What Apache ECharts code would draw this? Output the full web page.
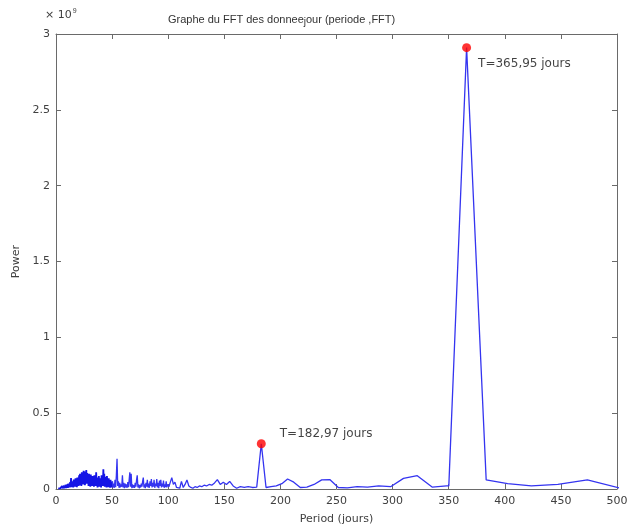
<!DOCTYPE html>
<html>
<head>
<meta charset="utf-8">
<script src="https://cdn.jsdelivr.net/npm/echarts@6/dist/echarts.min.js"></script>
<style>
  html, body { margin: 0; padding: 0; background: #fff; }
  #chart { width: 630px; height: 526px; }
</style>
</head>
<body>
<div id="chart"></div>
<script>
// power values are in units of 1e9 (the "x 10^9" note above the y axis)

// [period (jours), power] for the dense short-period part
const lowBand = [
  [2, 0.003], [3, 0.004], [4, 0.006], [5, 0.008],
  [5.4, 0.02], [5.8, 0.004], [6.2, 0.015], [6.6, 0.006], [7.0, 0.022], [7.4, 0.005],
  [7.8, 0.018], [8.2, 0.008], [8.6, 0.028], [9.0, 0.006], [9.4, 0.025], [9.8, 0.01],
  [10.2, 0.032], [10.6, 0.008], [11.0, 0.035], [11.4, 0.012], [11.8, 0.03], [12.2, 0.01],
  [12.6, 0.045], [13.0, 0.015], [13.4, 0.072], [13.8, 0.012], [14.2, 0.04], [14.6, 0.018],
  [15.0, 0.05], [15.4, 0.01], [15.8, 0.062], [16.2, 0.02], [16.6, 0.055], [17.0, 0.015],
  [17.4, 0.07], [17.8, 0.025], [18.2, 0.06], [18.6, 0.012], [19.0, 0.075], [19.4, 0.03],
  [19.8, 0.068], [20.2, 0.02], [20.6, 0.09], [21.0, 0.025], [21.4, 0.1], [21.8, 0.035],
  [22.2, 0.085], [22.6, 0.02], [23.0, 0.11], [23.4, 0.04], [23.8, 0.095], [24.2, 0.03],
  [24.6, 0.12], [25.0, 0.045], [25.4, 0.1], [25.8, 0.025], [26.2, 0.115], [26.6, 0.05],
  [27.0, 0.125], [27.4, 0.035], [27.8, 0.105], [28.2, 0.04], [28.6, 0.09], [29.0, 0.02],
  [29.4, 0.1], [29.8, 0.035], [30.2, 0.075], [30.6, 0.015], [31.0, 0.095], [31.4, 0.03],
  [31.8, 0.07], [32.2, 0.02], [32.6, 0.085], [33.0, 0.04], [33.4, 0.065], [33.8, 0.015],
  [34.2, 0.09], [34.6, 0.03], [35.0, 0.08], [35.4, 0.02], [35.8, 0.11], [36.2, 0.035],
  [36.6, 0.075], [37.0, 0.01], [37.4, 0.06], [37.8, 0.03], [38.2, 0.085], [38.6, 0.015],
  [39.0, 0.07], [39.4, 0.025], [39.8, 0.05], [40.2, 0.01], [40.6, 0.09], [41.0, 0.03],
  [41.4, 0.075], [41.8, 0.02], [42.2, 0.13], [42.6, 0.04], [43.0, 0.1], [43.4, 0.015],
  [43.8, 0.08], [44.2, 0.03], [44.6, 0.065], [45.0, 0.01], [45.4, 0.085], [45.8, 0.025],
  [46.2, 0.05], [46.6, 0.012], [47.0, 0.07], [47.4, 0.02], [47.8, 0.045], [48.2, 0.008],
  [48.6, 0.06], [49.0, 0.015], [49.4, 0.04], [49.8, 0.01]
];

const midBand = [
  [50.2, 0.05], [50.8, 0.01], [51.4, 0.035], [52.0, 0.008], [52.6, 0.06], [53.2, 0.012],
  [53.8, 0.09], [54.4, 0.2], [55.0, 0.02], [55.6, 0.05], [56.2, 0.008], [56.8, 0.04],
  [57.4, 0.01], [58.0, 0.03], [58.6, 0.015], [59.2, 0.09], [59.8, 0.01], [60.4, 0.04],
  [61.0, 0.005], [61.6, 0.035], [62.2, 0.01], [62.8, 0.03], [63.4, 0.008], [64.0, 0.045],
  [64.6, 0.012], [65.2, 0.06], [65.8, 0.11], [66.4, 0.015], [67.0, 0.1], [67.6, 0.005],
  [68.2, 0.03], [68.8, 0.01], [69.4, 0.025], [70.0, 0.008], [70.6, 0.04], [71.2, 0.015],
  [71.8, 0.06], [72.4, 0.09], [73.0, 0.01], [73.6, 0.03], [74.2, 0.005], [74.8, 0.025],
  [75.4, 0.01], [76.0, 0.035], [76.6, 0.015], [77.2, 0.05], [77.8, 0.075], [78.4, 0.01],
  [79.0, 0.03], [79.6, 0.005], [80.2, 0.04], [80.8, 0.015], [81.4, 0.06], [82.0, 0.01],
  [82.6, 0.035], [83.2, 0.008], [83.8, 0.05], [84.4, 0.02], [85.0, 0.065], [85.6, 0.01],
  [86.2, 0.04], [86.8, 0.015], [87.4, 0.06], [88.0, 0.008], [88.6, 0.035], [89.2, 0.02],
  [89.8, 0.065], [90.4, 0.01], [91.0, 0.04], [91.6, 0.005], [92.2, 0.055], [92.8, 0.02],
  [93.4, 0.06], [94.0, 0.01], [94.6, 0.035], [95.2, 0.015], [95.8, 0.055], [96.4, 0.008],
  [97.0, 0.03], [97.6, 0.012], [98.2, 0.05], [98.8, 0.01], [99.4, 0.03],
  [100.6, 0.015], [101.9, 0.045], [103.2, 0.075], [104.6, 0.03], [106.0, 0.045], [107.4, 0.01],
  [108.8, 0.02], [110.3, 0.005], [111.8, 0.05], [113.4, 0.01], [115.0, 0.03], [116.7, 0.06],
  [118.4, 0.02], [120.2, 0.01], [122.0, 0.005], [123.9, 0.015], [125.8, 0.01], [127.8, 0.02],
  [129.9, 0.015], [132.0, 0.025], [134.2, 0.02], [136.5, 0.03], [138.8, 0.025], [141.3, 0.04],
  [143.8, 0.062], [146.4, 0.03], [149.1, 0.045]
];

const highBand = [
  [151.9, 0.03], [154.8, 0.05], [157.9, 0.02], [161.0, 0.005], [164.3, 0.015], [167.8, 0.01],
  [171.3, 0.015], [175.0, 0.01], [178.9, 0.012], [182.97, 0.298], [187.2, 0.01], [191.7, 0.015],
  [196.3, 0.02], [201.3, 0.035], [206.4, 0.066], [211.9, 0.045], [217.7, 0.01], [223.6, 0.012],
  [230.0, 0.03], [236.8, 0.06], [244.0, 0.062], [251.6, 0.01], [259.7, 0.008], [268.4, 0.015],
  [277.6, 0.012], [287.6, 0.02], [298.2, 0.015], [309.7, 0.07], [322.0, 0.088], [335.5, 0.012],
  [348.0, 0.02], [350.1, 0.02], [365.95, 2.91], [383.4, 0.06], [402.5, 0.035], [423.7, 0.02],
  [447.3, 0.03], [473.6, 0.06], [503.2, 0.005]
];

// data tips on the two main peaks
const peaks = [[365.95, 2.91], [182.97, 0.298]];
const peakLabels = ['T=365,95 jours', 'T=182,97 jours'];
const peakOffsets = [[2, 16], [9, -10]];

const chart = echarts.init(document.getElementById('chart'), null, { renderer: 'canvas' });

const axisGrey = '#6a6a6a';
const tickFont = 'DejaVu Sans';

const boxAxis = {
  axisLine: { show: true, onZero: false, lineStyle: { color: axisGrey } },
  axisTick: { show: true, inside: true, length: 5, lineStyle: { color: axisGrey } },
  splitLine: { show: false }
};

const option = {
  animation: false,
  backgroundColor: '#ffffff',
  title: {
    text: 'Graphe du FFT des donnee{sub|j}our (periode ,FFT)',
    left: 163,
    top: 8,
    textStyle: {
      fontFamily: 'Liberation Sans',
      fontSize: 11,
      fontWeight: 'normal',
      color: '#333333',
      rich: {
        sub: { fontFamily: 'Liberation Sans', fontSize: 10, color: '#333333', padding: [4, 0, 0, 0] }
      }
    }
  },
  graphic: [
    {
      type: 'text',
      left: 45,
      top: 8,
      style: {
        text: '× 10{sup|9}',
        font: '11px DejaVu Sans',
        fill: '#404040',
        rich: { sup: { fontSize: 7, fill: '#404040', padding: [0, 0, 7, 1] } }
      }
    }
  ],
  grid: { left: 56, right: 13, top: 34, bottom: 37, outerBoundsMode: 'none' },
  xAxis: [
    Object.assign({}, boxAxis, {
      type: 'value',
      min: 0,
      max: 500,
      interval: 50,
      name: 'Period (jours)',
      nameLocation: 'middle',
      nameGap: 25,
      nameTextStyle: { fontFamily: tickFont, fontSize: 11, color: '#404040' },
      axisLabel: { fontFamily: tickFont, fontSize: 11, color: '#404040', margin: 7 }
    }),
    Object.assign({}, boxAxis, {
      type: 'value',
      position: 'top',
      min: 0,
      max: 500,
      interval: 50,
      axisLabel: { show: false }
    })
  ],
  yAxis: [
    Object.assign({}, boxAxis, {
      type: 'value',
      min: 0,
      max: 3,
      interval: 0.5,
      name: 'Power',
      nameLocation: 'middle',
      nameGap: 30,
      nameTextStyle: { fontFamily: tickFont, fontSize: 11, color: '#404040' },
      axisLabel: { fontFamily: tickFont, fontSize: 11, color: '#404040', margin: 6 }
    }),
    Object.assign({}, boxAxis, {
      type: 'value',
      position: 'right',
      min: 0,
      max: 3,
      interval: 0.5,
      axisLabel: { show: false }
    })
  ],
  series: [
    {
      // dense short periods: the overlapping strokes look darker in the original
      type: 'line',
      data: lowBand.concat(midBand.slice(0, 1)),
      showSymbol: false,
      clip: true,
      lineStyle: { color: '#1414e6', width: 1.8 },
      emphasis: { disabled: true }
    },
    {
      type: 'line',
      data: midBand.concat(highBand),
      showSymbol: false,
      clip: true,
      lineStyle: { color: '#3434f0', width: 1.3 },
      emphasis: { disabled: true }
    },
    {
      type: 'scatter',
      data: peaks.map((p, i) => ({
        value: p,
        label: {
          show: true,
          position: 'right',
          offset: peakOffsets[i],
          formatter: peakLabels[i],
          fontFamily: 'DejaVu Sans',
          fontSize: 12,
          color: '#111111'
        }
      })),
      symbol: 'circle',
      symbolSize: 9,
      itemStyle: { color: '#ff0000' },
      z: 5
    }
  ]
};

chart.setOption(option);
</script>
</body>
</html>
